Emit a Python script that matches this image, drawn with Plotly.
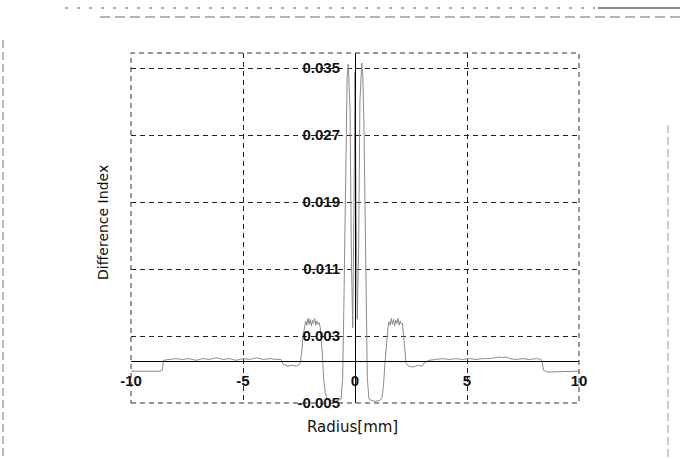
import plotly.graph_objects as go

# ---- data ----
radius_mm = [
    -10.0, -8.7, -8.6, -8.55, -8.3, -8.0, -7.7, -7.4, -7.1, -6.8, -6.5, -6.2, -5.9, -5.6,
    -5.3, -5.0, -4.7, -4.4, -4.1, -3.8, -3.5, -3.3,
    -3.2, -3.0, -2.8, -2.6, -2.45,
    -2.38, -2.32, -2.25,
    -2.2, -2.15, -2.1, -2.05, -2.0, -1.95, -1.9, -1.85, -1.8, -1.75, -1.7, -1.65, -1.6, -1.55,
    -1.5, -1.45, -1.4, -1.33, -1.25,
    -1.1, -0.9, -0.75, -0.62,
    -0.55, -0.5, -0.45, -0.4, -0.35, -0.3,
    -0.22, -0.16, -0.1, -0.04, 0.0, 0.04, 0.1, 0.16, 0.22, 0.3,
    0.35, 0.4, 0.45, 0.5, 0.55, 0.62,
    0.75, 0.9, 1.1, 1.2, 1.27, 1.33, 1.4, 1.47,
    1.52, 1.57, 1.62, 1.67, 1.72, 1.77, 1.82, 1.87, 1.92, 1.97, 2.02, 2.07, 2.12,
    2.17, 2.22, 2.28,
    2.4, 2.6, 2.8, 3.0, 3.1,
    3.3, 3.6, 3.9, 4.2, 4.5, 4.8, 5.1, 5.4, 5.7, 6.0, 6.3, 6.45, 6.6, 6.75, 6.9, 7.2, 7.5,
    7.8, 8.1, 8.3,
    8.35, 8.42, 8.6, 10.0,
]
difference_index = [
    -0.0012, -0.0012, -0.0011, 0.0001, 0.0002, 0.0003, 0.0002, 0.0003, 0.0001, 0.0003, 0.0002, 0.0004, 0.0002, 0.0003,
    0.0001, 0.0003, 0.0002, 0.0004, 0.0002, 0.0003, 0.0002, 0.0002,
    -0.0004, -0.0006, -0.0005, -0.0006, -0.0003,
    0.0010, 0.0030, 0.0042,
    0.0048, 0.0043, 0.0051, 0.0044, 0.0050, 0.0042, 0.0049, 0.0045, 0.0051, 0.0043, 0.0048, 0.0044, 0.0046, 0.0040,
    0.0025, 0.0005, -0.0020, -0.0038, -0.0045,
    -0.0047, -0.0048, -0.0047, -0.0045,
    -0.0020, 0.0060, 0.0180, 0.0280, 0.0340, 0.0355,
    0.0300, 0.0120, 0.0040, 0.0200, 0.0345, 0.0210, 0.0050, 0.0130, 0.0310, 0.0356,
    0.0340, 0.0280, 0.0180, 0.0060, -0.0020, -0.0045,
    -0.0047, -0.0048, -0.0047, -0.0044, -0.0030, -0.0005, 0.0020, 0.0040,
    0.0047, 0.0043, 0.0051, 0.0044, 0.0050, 0.0042, 0.0049, 0.0045, 0.0051, 0.0043, 0.0048, 0.0044, 0.0045,
    0.0030, 0.0010, -0.0003,
    -0.0006, -0.0007, -0.0005, -0.0006, -0.0002,
    0.0001, 0.0002, 0.0003, 0.0002, 0.0003, 0.0002, 0.0003, 0.0002, 0.0003, 0.0003, 0.0004, 0.0005, 0.0004, 0.0005, 0.0003, 0.0002, 0.0003,
    0.0002, 0.0003, 0.0002,
    -0.0001, -0.0011, -0.0013, -0.0012,
]

x_ticks = [-10, -5, 0, 5, 10]
x_tick_labels = ["-10", "-5", "0", "5", "10"]
y_ticks = [0.035, 0.027, 0.019, 0.011, 0.003, -0.005]
y_tick_labels = ["0.035", "0.027", "0.019", "0.011", "0.003", "-0.005"]

X_RANGE = [-10, 10]
Y_RANGE = [-0.005, 0.0368]

# ---- layout geometry ----
W, H = 680, 459
ML, MR, MT, MB = 131, 101, 53, 56
PW, PH = W - ML - MR, H - MT - MB


def px_x(px):
    return (px - ML) / PW


def px_y(py):
    return (H - MB - py) / PH


x_axis_pos = (0 - Y_RANGE[0]) / (Y_RANGE[1] - Y_RANGE[0])
y_axis_pos = (0 - X_RANGE[0]) / (X_RANGE[1] - X_RANGE[0])

fig = go.Figure()
fig.add_trace(go.Scatter(
    x=radius_mm, y=difference_index, mode="lines",
    line=dict(color="#8c8c8c", width=1),
    showlegend=False, hoverinfo="skip",
))

tick_font = dict(family="Liberation Sans", size=15, color="#111111", weight="bold")
dash = "5px,4px"

fig.update_layout(
    width=W, height=H,
    margin=dict(l=ML, r=MR, t=MT, b=MB, pad=0),
    paper_bgcolor="white", plot_bgcolor="white",
    xaxis=dict(
        range=X_RANGE, tickvals=x_ticks, ticktext=x_tick_labels,
        showgrid=True, gridcolor="#222222", griddash=dash, gridwidth=1,
        zeroline=False, showline=True, linecolor="black", linewidth=1,
        anchor="free", position=x_axis_pos, ticks="",
        ticklabelstandoff=6, tickfont=tick_font,
    ),
    yaxis=dict(
        range=Y_RANGE, tickvals=y_ticks, ticktext=y_tick_labels,
        showgrid=True, gridcolor="#222222", griddash=dash, gridwidth=1,
        zeroline=False, showline=True, linecolor="black", linewidth=1,
        anchor="free", position=y_axis_pos, ticks="",
        ticklabelstandoff=12, tickfont=tick_font,
    ),
    shapes=[
        dict(type="rect", xref="paper", yref="paper", x0=0, x1=1, y0=0, y1=1,
             line=dict(color="#333333", width=1, dash=dash)),
        dict(type="line", xref="paper", yref="paper", x0=px_x(3), x1=px_x(3), y0=px_y(40), y1=px_y(459),
             line=dict(color="#777777", width=1, dash="8px,4px")),
        dict(type="line", xref="paper", yref="paper", x0=px_x(668), x1=px_x(668), y0=px_y(125), y1=px_y(459),
             line=dict(color="#999999", width=1, dash="8px,4px")),
        dict(type="line", xref="paper", yref="paper", x0=px_x(65), x1=px_x(595), y0=px_y(8), y1=px_y(8),
             line=dict(color="#555555", width=1, dash="3px,9px")),
        dict(type="line", xref="paper", yref="paper", x0=px_x(598), x1=px_x(680), y0=px_y(8), y1=px_y(8),
             line=dict(color="#111111", width=1)),
        dict(type="line", xref="paper", yref="paper", x0=px_x(100), x1=px_x(680), y0=px_y(17), y1=px_y(17),
             line=dict(color="#666666", width=1, dash="10px,5px")),
    ],
    annotations=[
        dict(text="Difference Index", xref="paper", yref="paper", x=px_x(103), y=px_y(223),
             showarrow=False, textangle=-90, xanchor="center", yanchor="middle",
             font=dict(family="DejaVu Sans", size=14, color="#111111")),
        dict(text="Radius[mm]", xref="paper", yref="paper", x=px_x(352), y=px_y(427),
             showarrow=False, xanchor="center", yanchor="middle",
             font=dict(family="DejaVu Sans", size=15, color="#111111")),
    ],
)

fig.write_html("out.html")
